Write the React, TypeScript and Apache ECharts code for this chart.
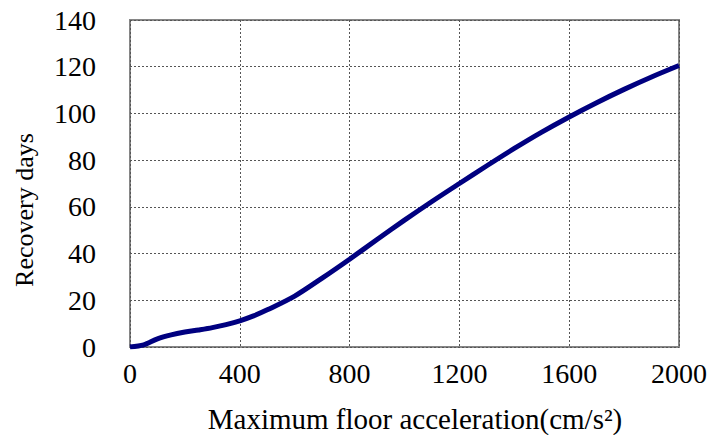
import React, { useEffect, useRef } from "react";
import * as echarts from "echarts";

// Peak floor acceleration (cm/s^2) and the corresponding recovery period (days)
const acceleration = [0, 50, 100, 150, 200, 250, 300, 350, 400, 450, 500, 600, 700, 800, 900, 1000, 1100, 1200, 1300, 1400, 1500, 1600, 1700, 1800, 1900, 2000];
const recoveryDays = [0, 0.9, 3.5, 5.2, 6.4, 7.3, 8.3, 9.6, 11.2, 13.3, 15.9, 21.8, 29.5, 37.6, 46, 54.3, 62.3, 70, 77.6, 85, 92, 98.5, 104.6, 110.3, 115.6, 120.5];

const xTicks = { min: 0, max: 2000, interval: 400 };
const yTicks = { min: 0, max: 140, interval: 20 };

const xTitle = "Maximum floor acceleration(cm/s²)";
const yTitle = "Recovery days";

const FONT = "Times New Roman, Liberation Serif, DejaVu Serif, serif";

export default function App() {
  const ref = useRef<HTMLDivElement>(null);

  useEffect(() => {
    if (!ref.current) return;
    const chart = echarts.init(ref.current, undefined, { renderer: "svg" });
    const points = acceleration.map((a, i) => [a, recoveryDays[i]]);

    chart.setOption({
      animation: false,
      backgroundColor: "#ffffff",
      textStyle: { fontFamily: FONT },
      grid: {
        left: 130,
        right: 28,
        top: 20,
        bottom: 88,
        show: true,
        borderColor: "#868686",
        borderWidth: 2,
        backgroundColor: "transparent",
      },
      xAxis: {
        type: "value",
        min: xTicks.min,
        max: xTicks.max,
        interval: xTicks.interval,
        axisLine: { show: false },
        axisTick: { show: false },
        axisLabel: {
          color: "#000",
          fontFamily: FONT,
          fontSize: 28,
          margin: 12,
          formatter: (v: number) => String(v),
        },
        splitLine: {
          show: true,
          lineStyle: { color: "#555", width: 1, type: [2, 2] },
        },
      },
      yAxis: {
        type: "value",
        min: yTicks.min,
        max: yTicks.max,
        interval: yTicks.interval,
        axisLine: { show: false },
        axisTick: { show: false },
        axisLabel: {
          color: "#000",
          fontFamily: FONT,
          fontSize: 28,
          margin: 34,
          formatter: (v: number) => String(v),
        },
        splitLine: {
          show: true,
          lineStyle: { color: "#555", width: 1, type: [2, 2] },
        },
      },
      graphic: [
        {
          type: "text",
          x: 415,
          y: 419,
          style: {
            text: xTitle,
            fill: "#000",
            fontFamily: FONT,
            fontSize: 29,
            textAlign: "center",
            textVerticalAlign: "middle",
          },
        },
        {
          type: "text",
          x: 24,
          y: 210,
          rotation: Math.PI / 2,
          style: {
            text: yTitle,
            fill: "#000",
            fontFamily: FONT,
            fontSize: 26,
            textAlign: "center",
            textVerticalAlign: "middle",
          },
        },
      ],
      series: [
        {
          type: "line",
          data: points,
          smooth: 0.3,
          showSymbol: false,
          lineStyle: { color: "#000080", width: 5 },
          itemStyle: { color: "#000080" },
        },
      ],
    });

    return () => chart.dispose();
  }, []);

  return <div ref={ref} style={{ width: 710, height: 435, position: "absolute", left: 0, top: 0 }} />;
}
